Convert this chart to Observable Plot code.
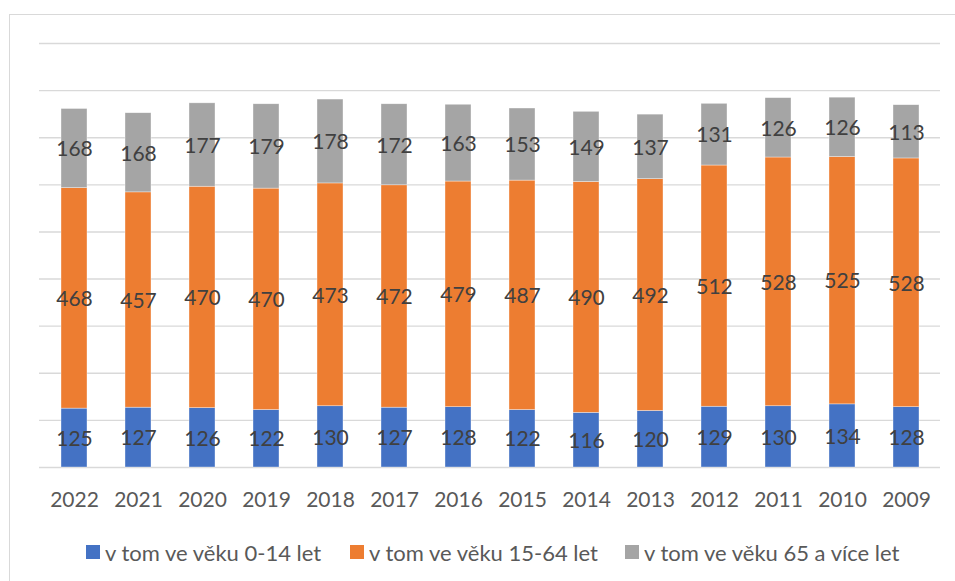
<!DOCTYPE html>
<html>
<head>
<meta charset="utf-8">
<script src="https://cdn.jsdelivr.net/npm/d3@7"></script>
<script src="https://cdn.jsdelivr.net/npm/@observablehq/plot@0.6"></script>
<style>
  html, body { margin: 0; padding: 0; background: #fff; overflow: hidden; }
  #wrap { position: relative; width: 955px; height: 581px; font-family: Lato, "Open Sans", sans-serif; }
  #frame { position: absolute; left: 9px; top: 14px; width: 1000px; height: 700px; border: 1px solid #D9D9D9; box-sizing: border-box; }
  #chart { position: absolute; left: 0; top: 0; }
  .leg { position: absolute; top: 540px; height: 24px; display: flex; align-items: center; font-size: 22px; color: #595959; white-space: nowrap; }
  .sw { width: 14px; height: 14px; margin-right: 5px; display: inline-block; }
</style>
</head>
<body>
<div id="wrap">
  <div id="frame"></div>
  <div id="chart"></div>
</div>
<script>
const years = ["2022","2021","2020","2019","2018","2017","2016","2015","2014","2013","2012","2011","2010","2009"];
const age0_14 = [125,127,126,122,130,127,128,122,116,120,129,130,134,128];
const age15_64 = [468,457,470,470,473,472,479,487,490,492,512,528,525,528];
const age65 = [168,168,177,179,178,172,163,153,149,137,131,126,126,113];
const seriesNames = ["v tom ve věku 0-14 let", "v tom ve věku 15-64 let", "v tom ve věku 65 a více let"];
const seriesColors = ["#4472C4", "#ED7D31", "#A5A5A5"];
const gridValues = [0,100,200,300,400,500,600,700,800,900];

const seriesValues = [age0_14, age15_64, age65];
const data = [];
seriesNames.forEach((s, si) => {
  years.forEach((y, i) => data.push({year: y, series: s, value: seriesValues[si][i]}));
});

const chart = Plot.plot({
  width: 955,
  height: 520,
  marginTop: 43,
  marginBottom: 53,
  marginLeft: 39,
  marginRight: 15,
  style: {fontFamily: "Lato, 'Open Sans', sans-serif", background: "transparent"},
  x: {domain: years, paddingInner: 0.6, paddingOuter: 0.3, label: null},
  y: {domain: [0, 900], axis: null},
  color: {domain: seriesNames, range: seriesColors},
  marks: [
    Plot.ruleY(gridValues, {stroke: "#D9D9D9", strokeWidth: 1.4}),
    Plot.barY(data, Plot.stackY({x: "year", y: "value", z: "series", fill: "series", stroke: "#ffffff", strokeOpacity: 0.6, strokeWidth: 0.6})),
    Plot.text(data, Plot.stackY({x: "year", y: "value", z: "series", text: d => String(d.value), fill: "#404040", fontSize: 21, dy: 1})),
    Plot.axisX({tickSize: 0, tickPadding: 25, fontSize: 21, color: "#595959", label: null})
  ]
});
document.getElementById("chart").appendChild(chart);

const wrap = document.getElementById("wrap");
const legLefts = [86, 350, 625];
seriesNames.forEach((s, i) => {
  const d = document.createElement("div");
  d.className = "leg";
  d.style.left = legLefts[i] + "px";
  d.innerHTML = `<span class="sw" style="background:${seriesColors[i]}"></span><span>${s}</span>`;
  wrap.appendChild(d);
});
</script>
</body>
</html>
